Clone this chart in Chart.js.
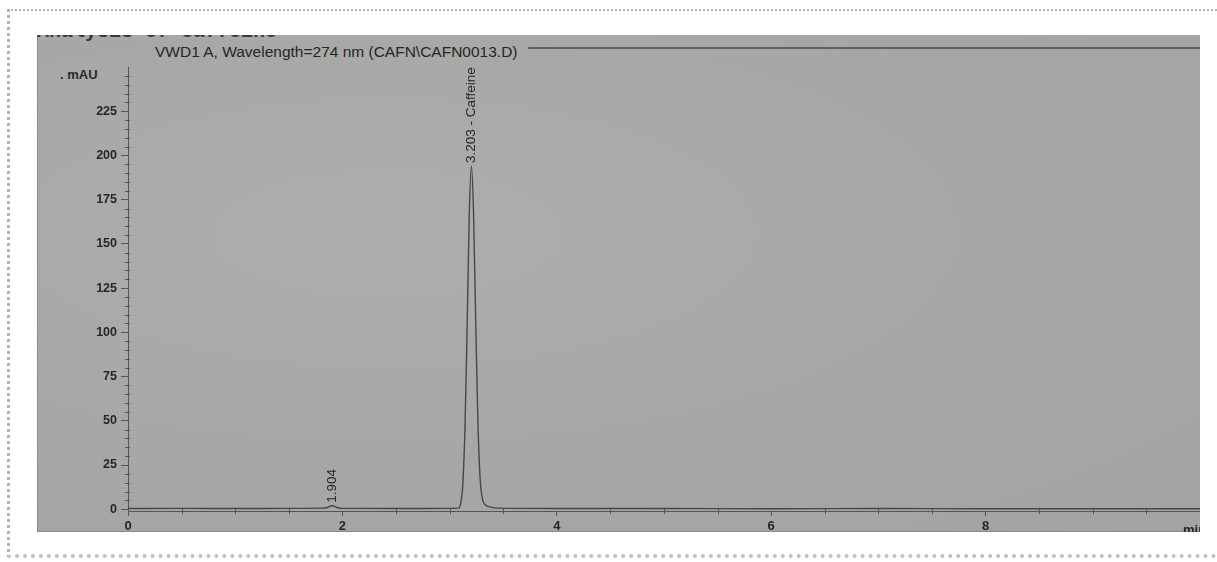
<!DOCTYPE html>
<html>
<head>
<meta charset="utf-8">
<script src="https://cdn.jsdelivr.net/npm/chart.js@4"></script>
<style>
  html, body { margin: 0; padding: 0; background: #fff; }
  body { width: 1217px; height: 562px; position: relative; overflow: hidden; font-family: "Liberation Sans", Arial, sans-serif; }
  #frame { position: absolute; left: 7px; top: 9px; width: 1215px; height: 543px;
    border-top: 2px dotted #b5b5b5; border-left: 3px dotted #b5b5b5; border-bottom: 4px dotted #c2c2c2; }
  #panel { position: absolute; left: 37px; top: 35px; width: 1163px; height: 497px;
    background: radial-gradient(ellipse at 30% 40%, #adadab 0%, #a8a8a6 45%, #a3a3a1 100%);
    border-left: 1px solid #8a8a8a; border-bottom: 1px solid #8a8a8a; box-sizing: border-box; }
  #clipTitle { position: absolute; left: 37px; top: 35px; width: 280px; height: 8px; overflow: hidden; }
  #clipTitle span { position: absolute; left: 0; top: -15px; font: bold 20px "Liberation Mono", monospace; color: #3a3a3a; white-space: nowrap; }
  #sig { position: absolute; left: 155px; top: 43px; font-size: 15.5px; color: #262626; white-space: nowrap; }
  #topline { position: absolute; left: 528px; top: 47px; width: 672px; height: 2px; background: #5e5e5e; }
  #unit { position: absolute; left: 60px; top: 67px; font-size: 13px; font-weight: bold; color: #2a2a2a; }
  canvas { position: absolute; left: 37px; top: 35px; }
</style>
</head>
<body>
<div id="frame"></div>
<div id="panel"></div>
<div id="clipTitle"><span>Analysis of Caffeine</span></div>
<div id="topline"></div>
<div id="sig">VWD1 A, Wavelength=274 nm (CAFN\CAFN0013.D)</div>
<div id="unit">. mAU</div>
<canvas id="c" width="1163" height="497"></canvas>
<script>
// retention time (min) and detector signal (mAU)
const times = [0, 0.5, 1.0, 1.5, 1.8, 1.86, 1.904, 1.95, 2.0, 2.5, 3.0, 3.083, 3.103, 3.123, 3.143, 3.163, 3.183, 3.203,
  3.223, 3.243, 3.263, 3.283, 3.303, 3.333, 3.383, 3.45, 4.0, 5.0, 6.0, 7.0, 8.0, 9.0, 10.0];
const signal = [0.4, 0.5, 0.4, 0.5, 0.6, 1.0, 2.0, 1.0, 0.5, 0.4, 0.5, 0.6, 3.3, 14, 45, 101, 165, 194,
  168, 108, 52, 19, 7, 2.5, 1.2, 0.6, 0.4, 0.4, 0.3, 0.4, 0.3, 0.3, 0.3];

const peakTimes = [1.904, 3.203];
const peakHeights = [2.0, 194];
const peakLabels = ["1.904", "3.203 - Caffeine"];

const xTicks = [0, 2, 4, 6, 8];
const yTicks = [0, 25, 50, 75, 100, 125, 150, 175, 200, 225];

const ink = "#262626";

const extras = {
  id: "extras",
  afterDraw(chart) {
    const ctx = chart.ctx, xs = chart.scales.x, ys = chart.scales.y;
    ctx.save();
    ctx.strokeStyle = "#555";
    ctx.lineWidth = 1;
    // minor ticks
    for (let v = 0; v <= 245; v += 5) {
      if (v % 25 === 0) continue;
      const py = Math.round(ys.getPixelForValue(v)) + 0.5;
      ctx.beginPath(); ctx.moveTo(xs.left - 3, py); ctx.lineTo(xs.left + 2, py); ctx.stroke();
    }
    for (let v = 0.5; v < 10; v += 0.5) {
      if (v % 2 === 0) continue;
      const px = Math.round(xs.getPixelForValue(v)) + 0.5;
      ctx.beginPath(); ctx.moveTo(px, ys.bottom - 2); ctx.lineTo(px, ys.bottom + 3); ctx.stroke();
    }
    // peak labels
    ctx.fillStyle = ink;
    ctx.font = "13.5px 'Liberation Sans', Arial, sans-serif";
    ctx.textAlign = "left";
    ctx.textBaseline = "middle";
    peakTimes.forEach((t, i) => {
      const px = xs.getPixelForValue(t), py = ys.getPixelForValue(peakHeights[i]) - 3;
      ctx.save();
      ctx.translate(px, py);
      ctx.rotate(-Math.PI / 2);
      ctx.fillText(peakLabels[i], 0, 0);
      ctx.restore();
    });
    // axis unit at right end
    ctx.font = "bold 13px 'Liberation Sans', Arial, sans-serif";
    ctx.textBaseline = "top";
    ctx.fillText("min", xs.right - 17, ys.bottom + 13);
    ctx.restore();
  }
};

new Chart(document.getElementById("c"), {
  type: "line",
  data: {
    datasets: [{
      data: times.map((t, i) => ({ x: t, y: signal[i] })),
      borderColor: "#474747",
      borderWidth: 1.4,
      pointRadius: 0,
      cubicInterpolationMode: "monotone",
      fill: false
    }]
  },
  options: {
    responsive: false,
    animation: false,
    layout: { padding: { top: 32, right: 0, left: 0, bottom: 0 } },
    plugins: { legend: { display: false }, tooltip: { enabled: false } },
    scales: {
      x: {
        type: "linear", min: 0, max: 10,
        afterBuildTicks: s => { s.ticks = xTicks.map(v => ({ value: v })); },
        afterFit: s => { s.height = 21; },
        grid: { drawOnChartArea: false, drawTicks: true, tickLength: 5, color: "#555" },
        border: { display: true, color: "#555", width: 1 },
        ticks: { color: ink, font: { size: 13, weight: "bold" }, padding: 3, maxRotation: 0 }
      },
      y: {
        min: -1, max: 250,
        afterBuildTicks: s => { s.ticks = yTicks.map(v => ({ value: v })); },
        afterFit: s => { s.width = 91; },
        grid: { drawOnChartArea: false, drawTicks: true, tickLength: 7, color: "#555" },
        border: { display: true, color: "#555", width: 1 },
        ticks: { color: ink, font: { size: 12.5, weight: "bold" }, padding: 4 }
      }
    }
  },
  plugins: [extras]
});
</script>
</body>
</html>
